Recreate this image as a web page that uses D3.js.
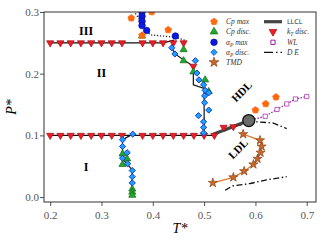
<!DOCTYPE html>
<html>
<head>
<meta charset="utf-8">
<script src="https://cdn.jsdelivr.net/npm/d3@7"></script>
<style>
body { margin: 0; background: #fff; }
svg text { font-family: "Liberation Serif", "DejaVu Serif", serif; }
</style>
</head>
<body>
<div id="chart"></div>
<script>
const width = 324;
const height = 243;
const margin = { left: 44, right: 8, top: 12, bottom: 41 };

const xTicks = [0.2, 0.3, 0.4, 0.5, 0.6, 0.7];
const yTicks = [0.0, 0.1, 0.2, 0.3];

// k_T discontinuities (red down triangles)
const kTdisc = [
    [0.20, 0.25], [0.22, 0.25], [0.24, 0.25], [0.26, 0.25], [0.28, 0.25], [0.30, 0.25], [0.32, 0.25], [0.34, 0.25],
    [0.38, 0.25], [0.40, 0.25], [0.42, 0.25], [0.44, 0.25], [0.46, 0.25], [0.479, 0.212],
    [0.20, 0.10], [0.22, 0.10], [0.24, 0.10], [0.26, 0.10], [0.28, 0.10], [0.30, 0.10], [0.32, 0.10], [0.34, 0.10],
    [0.38, 0.10], [0.40, 0.10], [0.42, 0.10], [0.44, 0.10], [0.46, 0.10], [0.48, 0.10], [0.50, 0.10], [0.52, 0.10],
    [0.538, 0.113], [0.557, 0.114]
];
const cpMax = [[0.358, 0.29], [0.398, 0.30], [0.379, 0.262], [0.43, 0.271], [0.60, 0.141], [0.62, 0.151], [0.64, 0.162]];
const cpDisc = [
    [0.379, 0.261], [0.46, 0.239], [0.46, 0.221], [0.479, 0.203], [0.502, 0.19], [0.509, 0.171],
    [0.341, 0.070], [0.35, 0.062], [0.341, 0.053], [0.36, 0.013], [0.36, 0.008], [0.36, 0.003]
];
const apMax = [[0.379, 0.30], [0.379, 0.293], [0.379, 0.285], [0.379, 0.278], [0.388, 0.27], [0.444, 0.261]];
const apDisc = [
    [0.437, 0.242], [0.443, 0.232], [0.483, 0.221], [0.486, 0.201], [0.49, 0.19], [0.499, 0.182], [0.502, 0.173],
    [0.509, 0.169], [0.501, 0.164], [0.501, 0.153], [0.509, 0.141], [0.489, 0.132], [0.499, 0.122], [0.499, 0.113],
    [0.499, 0.104],
    [0.361, 0.102], [0.341, 0.093], [0.341, 0.082], [0.35, 0.072], [0.341, 0.063], [0.351, 0.054], [0.36, 0.043],
    [0.36, 0.033], [0.36, 0.023]
];
const tmd = [[0.517, 0.023], [0.557, 0.032], [0.578, 0.042], [0.596, 0.053], [0.604, 0.062], [0.61, 0.072], [0.612, 0.082], [0.609, 0.092], [0.576, 0.102]];
const widom = [[0.587, 0.124], [0.619, 0.131], [0.642, 0.142], [0.661, 0.151], [0.678, 0.159], [0.70, 0.163]];
const deUpper = [[0.539, 0.107], [0.556, 0.114], [0.603, 0.122], [0.635, 0.12], [0.661, 0.111]];
const deLower = [[0.541, 0.011], [0.555, 0.018], [0.59, 0.022], [0.622, 0.028], [0.661, 0.033]];
const llcl = [[0.518, 0.102], [0.587, 0.124]];
const criticalPoint = [0.587, 0.124];

// phase boundaries (thin black)
const boundaryIII = [[0.20, 0.25], [0.42, 0.25], [0.44, 0.254], [0.437, 0.242], [0.443, 0.232], [0.479, 0.212], [0.479, 0.182], [0.50, 0.176], [0.50, 0.10]];
const boundaryI = [[0.20, 0.10], [0.52, 0.10]];
const boundaryLow = [[0.361, 0.102], [0.341, 0.093], [0.341, 0.062], [0.36, 0.044], [0.36, 0.003]];
const apMaxLine = [[0.366, 0.298], [0.386, 0.272], [0.395, 0.263], [0.444, 0.259], [0.463, 0.254]];

const svg = d3.select('#chart')
    .append('svg')
    .attr('width', width)
    .attr('height', height);

const xScale = d3.scaleLinear().domain([0.188, 0.718]).range([margin.left, width - margin.right]);
const yScale = d3.scaleLinear().domain([-0.008, 0.3]).range([height - margin.bottom, margin.top]);

svg.append('defs').append('clipPath').attr('id', 'clip')
    .append('rect')
    .attr('x', margin.left).attr('y', margin.top)
    .attr('width', width - margin.left - margin.right)
    .attr('height', height - margin.top - margin.bottom);

const xAxis = d3.axisBottom(xScale).tickValues(xTicks).tickFormat(d3.format('.1f')).tickSizeOuter(0).tickSize(4);
const yAxis = d3.axisLeft(yScale).tickValues(yTicks).tickFormat(d3.format('.1f')).tickSizeOuter(0).tickSize(4);

svg.append('g')
    .attr('transform', `translate(0, ${height - margin.bottom})`)
    .call(xAxis)
    .call(g => g.select('.domain').remove())
    .call(g => g.selectAll('text').attr('dy', '0.95em').style('font-size', '11px').style('fill', '#555').style('font-family', '"Liberation Serif", serif'))
    .call(g => g.selectAll('line').attr('stroke', '#555'));

svg.append('g')
    .attr('transform', `translate(${margin.left}, 0)`)
    .call(yAxis)
    .call(g => g.select('.domain').remove())
    .call(g => g.selectAll('text').attr('x', -5).style('font-size', '11px').style('fill', '#555').style('font-family', '"Liberation Serif", serif'))
    .call(g => g.selectAll('line').attr('stroke', '#555'));

const plot = svg.append('g').attr('clip-path', 'url(#clip)');
const line = d3.line().x(d => xScale(d[0])).y(d => yScale(d[1]));

plot.append('path').attr('d', line(boundaryIII)).attr('fill', 'none').attr('stroke', '#111').attr('stroke-width', 1.2);
plot.append('path').attr('d', line(boundaryI)).attr('fill', 'none').attr('stroke', '#111').attr('stroke-width', 1.2);
plot.append('path').attr('d', line(boundaryLow)).attr('fill', 'none').attr('stroke', '#111').attr('stroke-width', 1.2);
plot.append('path').attr('d', line(apMaxLine)).attr('fill', 'none').attr('stroke', '#333').attr('stroke-width', 1.3).attr('stroke-dasharray', '1.3,1.7');
plot.append('path').attr('d', line(deUpper)).attr('fill', 'none').attr('stroke', '#111').attr('stroke-width', 1.3).attr('stroke-dasharray', '6,2.5,1.5,2.5');
plot.append('path').attr('d', line(deLower)).attr('fill', 'none').attr('stroke', '#111').attr('stroke-width', 1.3).attr('stroke-dasharray', '6,2.5,1.5,2.5');
plot.append('path').attr('d', line(tmd)).attr('fill', 'none').attr('stroke', '#e07a2c').attr('stroke-width', 1.2);
plot.append('path').attr('d', line(widom)).attr('fill', 'none').attr('stroke', '#9b1fa0').attr('stroke-width', 1.3).attr('stroke-dasharray', '1.5,1.5');
plot.append('path').attr('d', line(llcl)).attr('fill', 'none').attr('stroke', '#444').attr('stroke-width', 3.2);

const pentagon = {
    draw(context, size) {
        const r = Math.sqrt(size / 2.378);
        for (let i = 0; i < 5; i++) {
            const a = -Math.PI / 2 + i * 2 * Math.PI / 5;
            if (i === 0) context.moveTo(r * Math.cos(a), r * Math.sin(a));
            else context.lineTo(r * Math.cos(a), r * Math.sin(a));
        }
        context.closePath();
    }
};

function markers(data, type, size, fill, stroke, rotate = 0, sw = 0.7) {
    plot.append('g').selectAll('path')
        .data(data)
        .enter()
        .append('path')
        .attr('d', d3.symbol().type(type).size(size))
        .attr('transform', d => `translate(${xScale(d[0])}, ${yScale(d[1])}) rotate(${rotate})`)
        .attr('fill', fill)
        .attr('stroke', stroke)
        .attr('stroke-width', sw);
}

markers(kTdisc, d3.symbolTriangle, 22, '#ee1c24', '#a01018', 180);
markers(cpDisc, d3.symbolTriangle, 22, '#22a82a', '#136b17');
markers(apDisc, d3.symbolSquare, 19, '#1ea0ff', '#1838b8', 45, 0.9);
markers(apMax, d3.symbolCircle, 34, '#0c18e0', '#0a10a0');
markers(cpMax, pentagon, 30, '#ff6a10', '#ff6a10');
markers(tmd, d3.symbolStar, 26, '#c8692a', '#8a4418');
markers(widom.slice(1), d3.symbolSquare, 18, '#fff', '#9b1fa0');

plot.append('circle')
    .attr('cx', xScale(criticalPoint[0]))
    .attr('cy', yScale(criticalPoint[1]))
    .attr('r', 6)
    .attr('fill', '#6a6a6a')
    .attr('stroke', '#111')
    .attr('stroke-width', 1.3);

// frame
svg.append('rect')
    .attr('x', margin.left).attr('y', margin.top)
    .attr('width', width - margin.left - margin.right)
    .attr('height', height - margin.top - margin.bottom)
    .attr('fill', 'none').attr('stroke', '#333').attr('stroke-width', 1);

// region labels
const regionLabels = [['III', 0.27, 0.263], ['II', 0.30, 0.195], ['I', 0.27, 0.042]];
svg.append('g').selectAll('text')
    .data(regionLabels)
    .enter()
    .append('text')
    .attr('x', d => xScale(d[1]))
    .attr('y', d => yScale(d[2]))
    .attr('text-anchor', 'middle')
    .style('font-size', '12px')
    .style('font-weight', 'bold')
    .text(d => d[0]);

const phaseLabels = [['HDL', 0.573, 0.171], ['LDL', 0.566, 0.078]];
svg.append('g').selectAll('text')
    .data(phaseLabels)
    .enter()
    .append('text')
    .attr('transform', d => `translate(${xScale(d[1])}, ${yScale(d[2])}) rotate(-45)`)
    .attr('text-anchor', 'middle')
    .attr('dy', '0.35em')
    .style('font-size', '11px')
    .style('font-weight', 'bold')
    .text(d => d[0]);

// axis labels
svg.append('text')
    .attr('x', 180).attr('y', 233)
    .attr('text-anchor', 'middle')
    .style('font-size', '14px')
    .style('font-style', 'italic')
    .text('T*');

svg.append('text')
    .attr('transform', 'translate(16, 107) rotate(-90)')
    .attr('text-anchor', 'middle')
    .style('font-size', '14px')
    .style('font-style', 'italic')
    .text('P*');

// legend
const legend = svg.append('g').style('font-size', '7.5px').style('font-style', 'italic').style('fill', '#333');
const rows = [21.7, 31.7, 42.3, 52.3, 62.3];
const col1 = [
    { type: pentagon, size: 30, fill: '#ff6a10', stroke: '#ff6a10', rot: 0, label: ['Cp', '', ' max'] },
    { type: d3.symbolTriangle, size: 26, fill: '#22a82a', stroke: '#136b17', rot: 0, label: ['Cp', '', ' disc.'] },
    { type: d3.symbolCircle, size: 34, fill: '#0c18e0', stroke: '#0a10a0', rot: 0, label: ['α', 'P', ' max'] },
    { type: d3.symbolSquare, size: 20, fill: '#1ea0ff', stroke: '#1838b8', rot: 45, label: ['α', 'P', ' disc.'] },
    { type: d3.symbolStar, size: 30, fill: '#c8692a', stroke: '#8a4418', rot: 0, label: ['TMD', '', ''] }
];
col1.forEach((d, i) => {
    legend.append('path')
        .attr('d', d3.symbol().type(d.type).size(d.size))
        .attr('transform', `translate(214, ${rows[i]}) rotate(${d.rot})`)
        .attr('fill', d.fill).attr('stroke', d.stroke).attr('stroke-width', 0.7);
    const t = legend.append('text').attr('x', 226).attr('y', rows[i] + 2.5);
    t.append('tspan').text(d.label[0]);
    if (d.label[1]) t.append('tspan').attr('dy', 2).style('font-size', '5.5px').text(d.label[1]);
    if (d.label[2]) t.append('tspan').attr('dy', d.label[1] ? -2 : 0).text(d.label[2]);
});

legend.append('line').attr('x1', 264).attr('x2', 282).attr('y1', rows[0]).attr('y2', rows[0])
    .attr('stroke', '#444').attr('stroke-width', 3.2);
legend.append('text').attr('x', 287).attr('y', rows[0] + 2.5).style('font-style', 'normal').style('font-family', '"DejaVu Sans", sans-serif').style('font-size', '6.5px').text('LLCL');

legend.append('path').attr('d', d3.symbol().type(d3.symbolTriangle).size(26))
    .attr('transform', `translate(273, ${rows[1]}) rotate(180)`)
    .attr('fill', '#ee1c24').attr('stroke', '#a01018').attr('stroke-width', 0.7);
const kt = legend.append('text').attr('x', 287).attr('y', rows[1] + 2.5);
kt.append('tspan').text('k');
kt.append('tspan').attr('dy', 2).style('font-size', '5.5px').text('T');
kt.append('tspan').attr('dy', -2).text(' disc.');

legend.append('path').attr('d', d3.symbol().type(d3.symbolSquare).size(18))
    .attr('transform', `translate(273, ${rows[2]})`)
    .attr('fill', '#fff').attr('stroke', '#9b1fa0').attr('stroke-width', 1);
legend.append('text').attr('x', 287).attr('y', rows[2] + 2.5).text('WL');

legend.append('line').attr('x1', 264).attr('x2', 282).attr('y1', rows[3]).attr('y2', rows[3])
    .attr('stroke', '#111').attr('stroke-width', 1.3).attr('stroke-dasharray', '9,3,1.5,3');
legend.append('text').attr('x', 287).attr('y', rows[3] + 2.5).text('D E');
</script>
</body>
</html>
